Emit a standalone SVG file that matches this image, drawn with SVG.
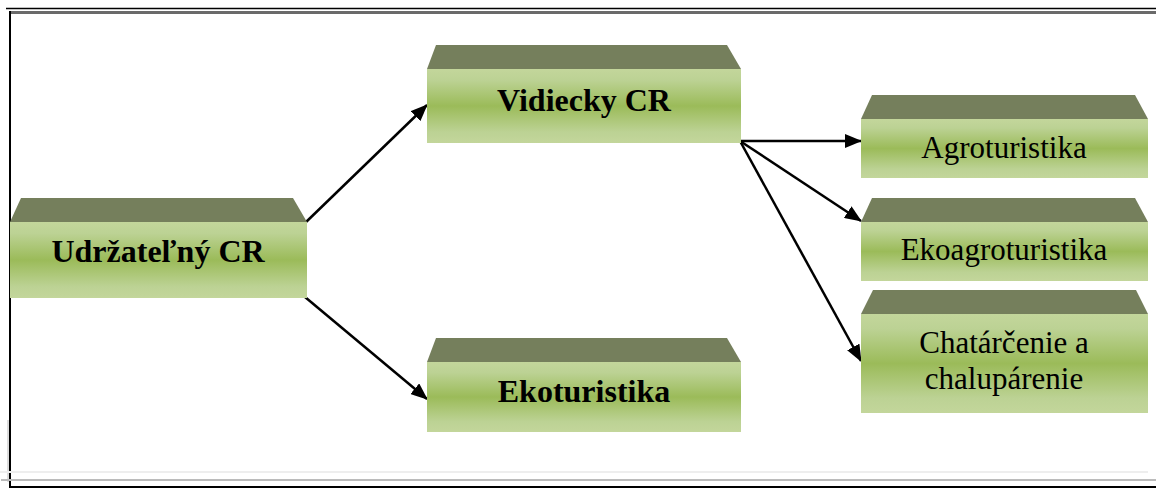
<svg xmlns="http://www.w3.org/2000/svg" width="1156" height="488" viewBox="0 0 1156 488">
<style>
.top{fill:#757f5c}
.front{fill:url(#g)}
.b{font-family:'Liberation Serif','Tinos','Times New Roman','DejaVu Serif',serif;font-weight:700;font-size:32px;fill:#000;text-anchor:middle}
.r{font-family:'Liberation Serif','Tinos','Times New Roman','DejaVu Serif',serif;font-weight:400;font-size:31px;fill:#000;text-anchor:middle}
.c{stroke:#000;stroke-width:2.5;fill:none;marker-end:url(#ah)}
</style>
<defs>
<linearGradient id="g" x1="0" y1="0" x2="0" y2="1">
<stop offset="0" stop-color="#c3d69b"/>
<stop offset="0.15" stop-color="#bcd294"/>
<stop offset="0.5" stop-color="#9bbb59"/>
<stop offset="0.85" stop-color="#bcd294"/>
<stop offset="1" stop-color="#c3d69b"/>
</linearGradient>
<marker id="ah" markerUnits="userSpaceOnUse" markerWidth="18" markerHeight="14" refX="16" refY="7" orient="auto">
<path d="M0,0 L17,7 L0,14 Z" fill="#000"/>
</marker>
</defs>
<rect width="1156" height="488" fill="#fff"/>
<g id="frame">
<line x1="6" y1="8.5" x2="1156" y2="8.5" stroke="#000" stroke-width="1.5"/>
<line x1="10" y1="12.5" x2="1156" y2="12.5" stroke="#6a6a6a" stroke-width="3"/>
<line x1="10" y1="11" x2="10" y2="488" stroke="#000" stroke-width="2"/>
<line x1="8" y1="420" x2="8" y2="482" stroke="#bbb" stroke-width="1"/>
<line x1="0" y1="472" x2="1148" y2="472" stroke="#eee" stroke-width="2"/>
<line x1="1" y1="480" x2="1156" y2="480" stroke="#bbb" stroke-width="2"/>
<line x1="9" y1="487" x2="1156" y2="487" stroke="#000" stroke-width="2"/>
</g>
<g id="connectors">
<line class="c" x1="305" y1="223" x2="427" y2="105"/>
<line class="c" x1="305" y1="297" x2="427" y2="399"/>
<line class="c" x1="740" y1="141" x2="861" y2="141"/>
<line class="c" x1="740" y1="141" x2="861" y2="221"/>
<line class="c" x1="740" y1="141" x2="861" y2="361"/>
</g>
<g id="udrzatelny">
<polygon class="top" points="21,198 293,198 307,222 10,222"/>
<rect class="front" x="10" y="222" width="297" height="76"/>
<text class="b" x="158" y="262">Udržateľný CR</text>
</g>
<g id="vidiecky">
<polygon class="top" points="436,45 727,45 741,69 427,69"/>
<rect class="front" x="427" y="69" width="314" height="74"/>
<text class="b" x="584" y="111">Vidiecky CR</text>
</g>
<g id="ekoturistika">
<polygon class="top" points="436,338 727,338 741,362 427,362"/>
<rect class="front" x="427" y="362" width="314" height="70"/>
<text class="b" x="584" y="402">Ekoturistika</text>
</g>
<g id="agroturistika">
<polygon class="top" points="872,95 1135,95 1148,119 861,119"/>
<rect class="front" x="861" y="119" width="287" height="59"/>
<text class="r" x="1004" y="158">Agroturistika</text>
</g>
<g id="ekoagroturistika">
<polygon class="top" points="872,198 1135,198 1148,222 861,222"/>
<rect class="front" x="861" y="222" width="287" height="59"/>
<text class="r" x="1004" y="260">Ekoagroturistika</text>
</g>
<g id="chatarcenie">
<polygon class="top" points="873,290 1136,290 1148,314 861,314"/>
<rect class="front" x="861" y="314" width="287" height="99"/>
<text class="r" x="1004" y="353">Chatárčenie a</text>
<text class="r" x="1004" y="389">chalupárenie</text>
</g>
</svg>
